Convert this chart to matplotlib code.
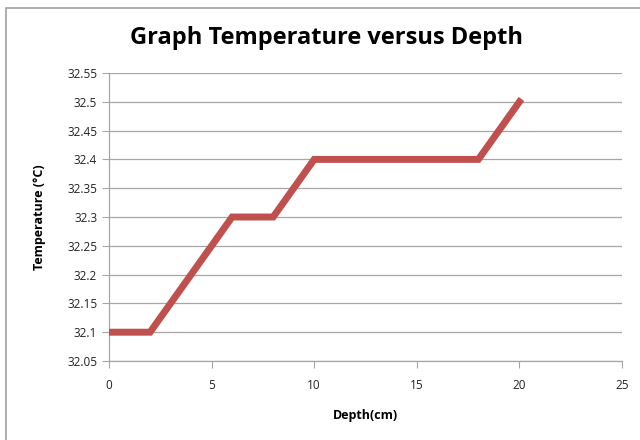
import matplotlib
matplotlib.use("Agg")
import matplotlib.pyplot as plt
from matplotlib.patches import Rectangle

depth = [0, 2, 4, 6, 8, 10, 12, 14, 16, 18, 20]
temperature = [32.1, 32.1, 32.2, 32.3, 32.3, 32.4, 32.4, 32.4, 32.4, 32.4, 32.5]
yticks = [32.05, 32.1, 32.15, 32.2, 32.25, 32.3, 32.35, 32.4, 32.45, 32.5, 32.55]
ytick_labels = ["32.05", "32.1", "32.15", "32.2", "32.25", "32.3", "32.35", "32.4", "32.45", "32.5", "32.55"]
xticks = [0, 5, 10, 15, 20, 25]

plt.rcParams['font.family'] = ['Open Sans', 'DejaVu Sans']

fig = plt.figure(figsize=(6.4, 4.4), dpi=100)
fig.patches.append(Rectangle((6/640, -0.01), 1.0, 1 - 8/440 + 0.01, transform=fig.transFigure,
                             fill=False, edgecolor='#A0A0A0', linewidth=1.2))
ax = fig.add_axes([109/640, 1 - 361/440, (622 - 109)/640, (361 - 73)/440])

ax.plot(depth, temperature, color='#C0504D', linewidth=5, solid_joinstyle='miter', zorder=3)

ax.set_xlim(0, 25)
ax.set_ylim(32.05, 32.55)
ax.set_xticks(xticks)
ax.set_yticks(yticks)
ax.set_yticklabels(ytick_labels)
ax.grid(axis='y', color='#A6A6A6', linewidth=0.9)
ax.set_axisbelow(True)
for s in ['top', 'right']:
    ax.spines[s].set_visible(False)
for s in ['left', 'bottom']:
    ax.spines[s].set_color('#A6A6A6')
    ax.spines[s].set_linewidth(0.9)
ax.tick_params(axis='both', direction='out', length=5, color='#A6A6A6', labelsize=8.5, labelcolor='#222222')
ax.tick_params(axis='x', pad=8)

ax.set_xlabel('Depth(cm)', fontsize=9, fontweight='bold', labelpad=12)
ax.set_ylabel('Temperature (°C)', fontsize=9, fontweight='bold', labelpad=15)
fig.text(326/640, 1 - 38/440, 'Graph Temperature versus Depth', fontsize=17, fontweight='bold',
         ha='center', va='center')

fig.savefig('out.png', dpi=100)
